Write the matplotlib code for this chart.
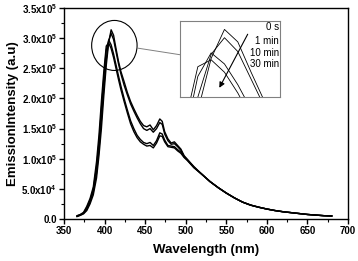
import matplotlib
matplotlib.use("Agg")
import matplotlib.pyplot as plt
from matplotlib.patches import Ellipse
from matplotlib.ticker import MultipleLocator, FixedLocator

plt.rcParams['font.family'] = 'Liberation Sans'
plt.rcParams['font.weight'] = 'bold'
plt.rcParams['mathtext.fontset'] = 'custom'
plt.rcParams['mathtext.bf'] = 'Liberation Sans:bold'
plt.rcParams['mathtext.rm'] = 'Liberation Sans:bold'
plt.rcParams['mathtext.default'] = 'bf'

# emission spectra at different times
wl = [366, 370, 374, 378, 382, 386, 390, 393, 396, 399, 402, 405, 408, 411, 414,
      417, 420, 424, 428, 432, 436, 440, 444, 448, 452, 456, 460, 464, 468, 471,
      474, 478, 482, 486, 490, 494, 498, 502, 506, 510, 520, 530, 540, 550, 560,
      570, 580, 590, 600, 610, 620, 630, 640, 650, 660, 670, 680]

tail = [74000, 62000, 52000, 43000, 35000, 28000, 23000, 19500, 16500, 14000,
        12000, 10500, 9000, 7500, 6500, 5500, 5000]

s_0s = [4000, 6000, 8500, 14000, 25000, 40000, 68000, 105000, 150000, 205000,
        255000, 293000, 314000, 305000, 283000, 262000, 245000, 228000, 210000,
        195000, 183000, 172000, 162000, 155000, 153000, 156000, 148000, 155000,
        166000, 162000, 145000, 133000, 126000, 128000, 122000, 116000, 105000,
        99000, 93000, 87000] + tail
s_1min = [4500, 6500, 9500, 16000, 28000, 45000, 76000, 115000, 165000, 218000,
          265000, 296000, 308000, 298000, 278000, 258000, 241000, 222000, 206000,
          191000, 179000, 168000, 158000, 150000, 147000, 150000, 144000, 150000,
          160000, 157000, 141000, 130000, 124000, 125000, 120000, 114000, 104000,
          98000, 92000, 86000] + tail
s_10min = [5000, 7000, 10000, 19000, 31000, 49000, 86000, 127000, 182000, 235000,
           280000, 297000, 289000, 274000, 256000, 238000, 221000, 200000, 181000,
           163000, 150000, 139000, 132000, 127000, 125000, 127000, 122000, 130000,
           143000, 141000, 131000, 122000, 121000, 120000, 115000, 111000, 103000,
           98000, 92000, 86000] + tail
s_30min = [5500, 7500, 11000, 21000, 34000, 53000, 95000, 139000, 195000, 245000,
           287000, 292000, 283000, 268000, 250000, 232000, 215000, 195000, 176000,
           158000, 145000, 135000, 128000, 124000, 121000, 122000, 118000, 126000,
           138000, 137000, 128000, 120000, 119000, 118000, 113000, 109000, 102000,
           97000, 91000, 85000] + tail

series = [s_0s, s_1min, s_10min, s_30min]
names = ['0 s', '1 min', '10 min', '30 min']

yticks = [0, 50000, 100000, 150000, 200000, 250000, 300000, 350000]
ylabels = ['0.0', '5.0x10$^4$', '1.0x10$^5$', '1.5x10$^5$', '2.0x10$^5$',
           '2.5x10$^5$', '3.0x10$^5$', '3.5x10$^5$']

fig = plt.figure(figsize=(3.58, 2.61), dpi=100)
ax = fig.add_axes([0.179, 0.161, 0.793, 0.808])

for s in series:
    ax.plot(wl, s, color='black', linewidth=1.0)

ax.set_xlim(350, 700)
ax.set_ylim(0, 350000)
ax.xaxis.set_major_locator(MultipleLocator(50))
ax.xaxis.set_minor_locator(MultipleLocator(25))
ax.yaxis.set_major_locator(FixedLocator(yticks))
ax.yaxis.set_minor_locator(MultipleLocator(25000))
ax.set_yticklabels(ylabels)
ax.tick_params(which='major', direction='out', length=3.5, width=1.0, labelsize=7, pad=1.5)
ax.tick_params(which='minor', direction='out', length=2, width=0.8)
for sp in ax.spines.values():
    sp.set_linewidth(1.0)
ax.set_xlabel('Wavelength (nm)', fontsize=9.5, fontweight='bold', labelpad=6)
ax.set_ylabel('EmissionIntensity (a.u)', fontsize=9.5, fontweight='bold', labelpad=2)

# circle around peak and connector to inset
ax.add_patch(Ellipse((412, 288000), 56, 83000, fill=False, edgecolor='black', linewidth=0.8))
ax.plot([440.5, 511.6], [283600, 268700], color='gray', linewidth=0.7)

# inset zoom of peak region
ins = fig.add_axes([0.503, 0.628, 0.279, 0.291])
for s in series:
    ins.plot(wl, s, color='black', linewidth=0.6)
ins.set_xlim(398, 420.5)
ins.set_ylim(265000, 320000)
ins.set_xticks([])
ins.set_yticks([])
for sp in ins.spines.values():
    sp.set_linewidth(0.8)
    sp.set_color('gray')
for name, yy in zip(names, [0.92, 0.74, 0.58, 0.43]):
    ins.text(0.99, yy, name, transform=ins.transAxes, ha='right', va='center',
             fontsize=7, fontweight='normal')
ins.annotate('', xy=(0.38, 0.09), xytext=(0.69, 0.86), xycoords='axes fraction',
             arrowprops=dict(arrowstyle='-|>', color='black', linewidth=0.8,
                             mutation_scale=8))

fig.savefig('out.png', dpi=100)
